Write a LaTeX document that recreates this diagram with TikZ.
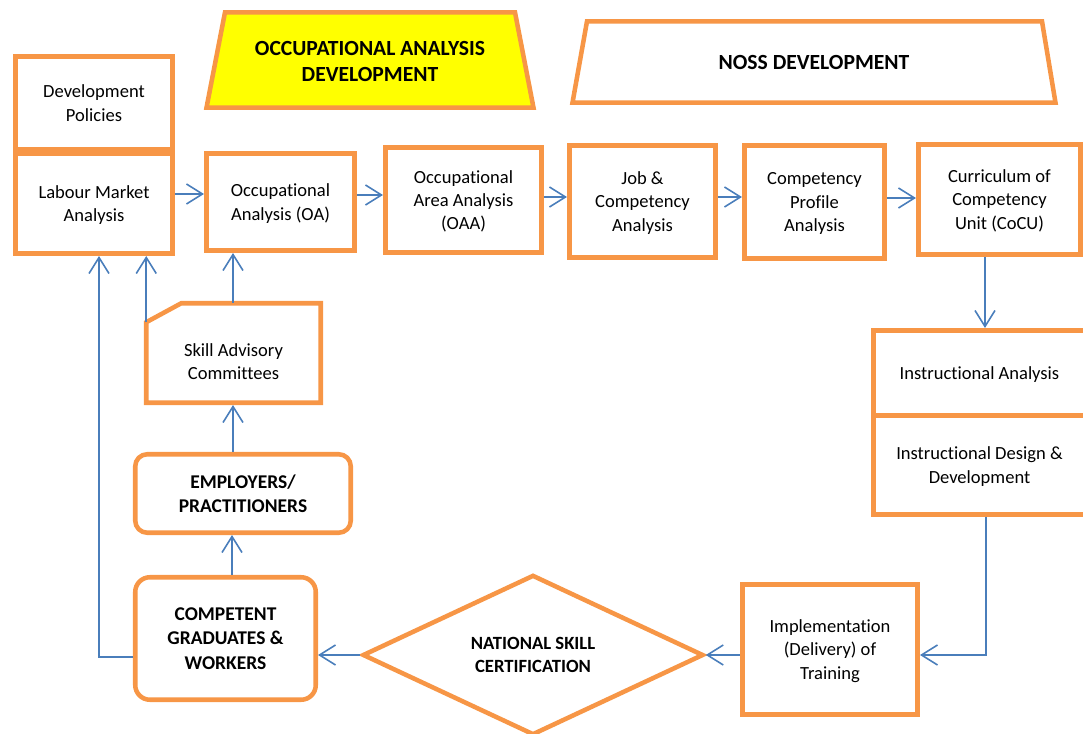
\documentclass[tikz,border=0pt]{standalone}
\usepackage{fontspec}
\setmainfont{Carlito}[Ligatures=NoCommon]
\usetikzlibrary{arrows.meta,shapes.geometric}
\definecolor{orng}{HTML}{F79646}
\definecolor{lnblue}{HTML}{4A7EBB}
\definecolor{hdyellow}{HTML}{FFFF00}

\begin{document}
\begin{tikzpicture}[x=0.75pt,y=-0.75pt,
  frame/.style={draw=orng, line width=3.4pt},
  % a fixed text depth keeps the lines at a steady height in each box
  box/.style={frame, fill=white, inner sep=0pt, align=center, text depth=-1pt,
    font=\fontsize{13.9}{17.4}\selectfont},
  boldbox/.style={box, font=\fontsize{14.6}{18.4}\selectfont\bfseries},
  sz/.style 2 args={minimum width={(#1-4.5)*0.75pt}, minimum height={(#2-4.5)*0.75pt}},
  txt/.style={inner sep=0pt, align=center, font=\fontsize{13.9}{17.4}\selectfont},
  head/.style={inner sep=0pt, align=center, font=\fontsize{16.2}{19.5}\selectfont\bfseries},
  arr/.style={draw=lnblue, line width=1.2pt, -{Straight Barb[length=12pt,width=15pt]}}]

\useasboundingbox (0,0) rectangle (1083,734);
\clip (0,0) rectangle (1083,734);

% header banners
\draw[frame, fill=hdyellow] (225,12.3) -- (515,12.3) -- (533.5,107.7) -- (206.5,107.7) -- cycle;
\node[head] (oad) at (370,61) {OCCUPATIONAL ANALYSIS\\DEVELOPMENT};
\draw[frame, fill=white] (587,21.3) -- (1042,21.3) -- (1055.5,102.7) -- (572.5,102.7) -- cycle;
\node[head] (noss) at (814,62.5) {NOSS DEVELOPMENT};

% top row
\node[box, sz={162}{98}, text depth=-2.8pt] (dp) at (94,103) {Development\\Policies};
\node[box, sz={162}{105}] (lma) at (94,203.5) {Labour Market\\Analysis};
\node[box, sz={153}{102}] (oa) at (280.5,202) {Occupational\\Analysis (OA)};
\node[box, sz={161}{110}] (oaa) at (463.5,200) {Occupational\\Area Analysis\\(OAA)};
\node[box, sz={151}{117}] (jca) at (642.5,201.5) {Job \&\\Competency\\Analysis};
\node[box, sz={145}{118}] (cpa) at (814.5,202) {Competency\\Profile\\Analysis};
\node[box, sz={167}{115}] (cocu) at (999.5,199.5) {Curriculum of\\Competency\\Unit (CoCU)};

% right column
\node[box, sz={217}{90}] (ia) at (979.5,373) {Instructional Analysis};
\node[box, sz={217}{104}] (idd) at (979.5,465) {Instructional Design \&\\Development};

% bottom row
\node[box, shape=diamond, minimum width={341*0.75pt}, minimum height={159*0.75pt},
  font=\fontsize{14}{17.6}\selectfont\bfseries] (nsc) at (533,655) {NATIONAL SKILL\\CERTIFICATION};
\node[box, sz={180}{135}] (impl) at (830,649.5) {Implementation\\(Delivery) of\\Training};
\node[boldbox, rounded corners=11pt, sz={185}{127}] (cgw) at (225.5,638.5) {COMPETENT\\GRADUATES \&\\WORKERS};
\node[boldbox, rounded corners=9pt, sz={220}{83}] (emp) at (243,493.5) {EMPLOYERS/\\PRACTITIONERS};

% skill advisory committees: rectangle with one snipped corner
\node[inner sep=0pt, outer sep=0pt, sz={179}{104}] (sacf) at (233.5,353) {};
\draw[frame, fill=white] (sacf.north west) ++(0,19) -- ++(35,-19) -- (sacf.north east)
  -- (sacf.south east) -- (sacf.south west) -- cycle;
\node[txt] (sac) at (233.5,362) {Skill Advisory\\Committees};
\coordinate (sacc) at ([yshift=-14.25pt]sacf.north west);

% connectors
\draw[arr] (lma.east |- 0,194) -- (oa.west |- 0,194);
\draw[arr] (oa.east |- 0,195) -- (oaa.west |- 0,195);
\draw[arr] (oaa.east |- 0,197) -- (jca.west |- 0,197);
\draw[arr] (jca.east |- 0,197) -- (cpa.west |- 0,197);
\draw[arr] (cpa.east |- 0,198) -- (cocu.west |- 0,198);
\draw[arr] (cocu.south -| 985,0) -- (ia.north -| 985,0);
\draw[arr] (idd.south -| 986,0) |- (impl.east |- 0,655);
\draw[arr] (impl.west |- nsc.east) -- (nsc.east);
\draw[arr] (nsc.west) -- (cgw.east |- nsc.west);
\draw[arr] (cgw.west |- 0,657) -| (lma.south -| 99,0);
\draw[arr] (sacc) -- (lma.south -| sacc);
\draw[arr] (sacf.north -| 233,0) -- (oa.south -| 233,0);
\draw[arr] (emp.north -| 233,0) -- ([yshift=-1.7pt]sacf.south -| 233,0);
\draw[arr] (cgw.north -| 232,0) -- (emp.south -| 232,0);
\end{tikzpicture}
\end{document}
